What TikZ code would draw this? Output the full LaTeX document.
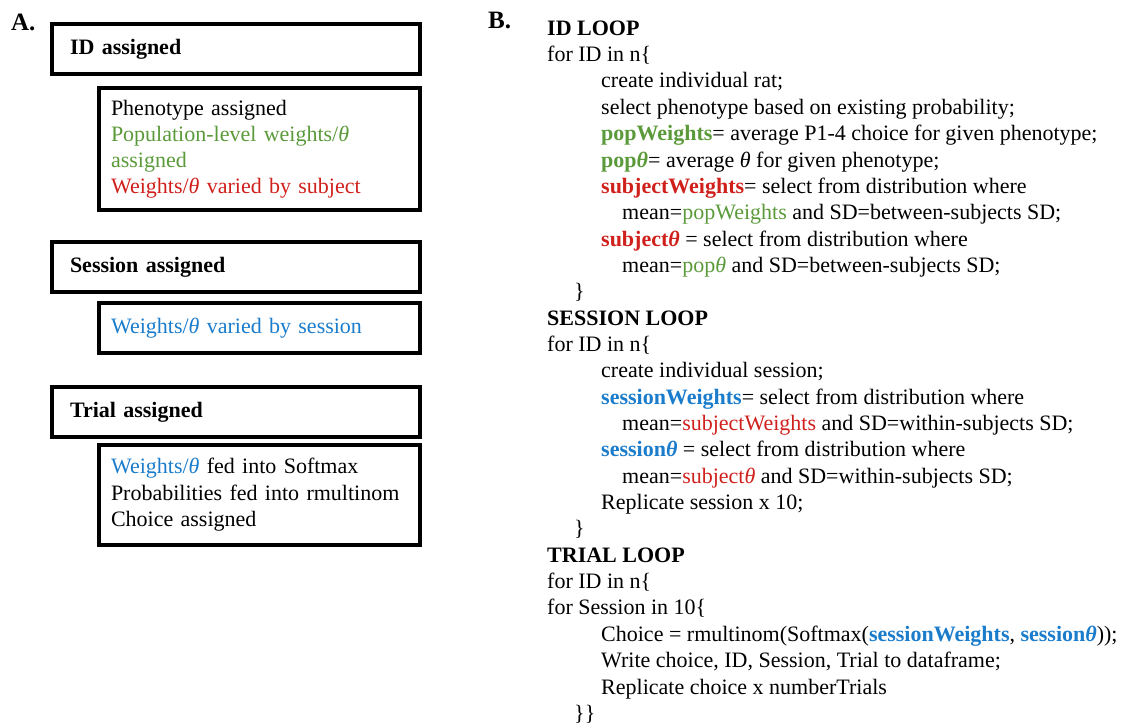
\documentclass[tikz,border=0pt]{standalone}
\usepackage{fontspec}
\setmainfont{Liberation Serif}
\definecolor{popgreen}{HTML}{5B9A3A}
\definecolor{subjred}{HTML}{D0201B}
\definecolor{sessblue}{HTML}{1A7CCB}
\newcommand{\tht}{\textit{θ}}
\newcommand{\gr}[1]{\textcolor{popgreen}{#1}}
\newcommand{\rd}[1]{\textcolor{subjred}{#1}}
\newcommand{\bl}[1]{\textcolor{sessblue}{#1}}
\begin{document}
\begin{tikzpicture}[x=1pt,y=-1pt,
  font=\fontsize{22}{26}\selectfont,
  codeline/.style={anchor=mid west, inner sep=0pt},
  panel/.style={anchor=base west, inner sep=0pt, font=\fontsize{25}{30}\selectfont\bfseries},
  stagebox/.style={draw, line width=3.5pt, outer sep=0pt, anchor=north west, align=left,
    minimum width=368pt, text width=332pt, inner xsep=18pt, inner ysep=0pt,
    minimum height=50pt},
  detailbox/.style={draw, line width=3.5pt, outer sep=0pt, anchor=north west, align=left,
    minimum width=321pt, text width=297pt, inner xsep=12pt, inner ysep=0pt}]
\useasboundingbox (0,0) rectangle (1122,727);

% panel letters
\node[panel] (labA) at (11,31) {A.};
\node[panel] (labB) at (488,29) {B.};

% A: stages of the simulation
\node[stagebox] (idbox) at (52,24) {\textbf{ID assigned}};
\node[detailbox, minimum height=122pt] (iddet) at (99,88)
  {Phenotype assigned\\
   \gr{Population-level weights/\tht}\\
   \gr{assigned}\\
   \rd{Weights/\tht{} varied by subject}};
\node[stagebox] (sessbox) at (52,242) {\textbf{Session assigned}};
\node[detailbox, minimum height=50pt] (sessdet) at (99,303)
  {\bl{Weights/\tht{} varied by session}};
\node[stagebox] (trialbox) at (52,387) {\textbf{Trial assigned}};
\node[detailbox, minimum height=100pt, font=\fontsize{22}{26.5}\selectfont] (trialdet) at (99,445)
  {\bl{Weights/\tht} fed into Softmax\\
   Probabilities fed into rmultinom\\
   Choice assigned};

% B: pseudocode
\node[codeline] (c00) at (547,33.0)  {\textbf{ID LOOP}};
\node[codeline] (c01) at (547,59.4)  {for ID in n\{};
\node[codeline] (c02) at (601,85.7)  {create individual rat;};
\node[codeline] (c03) at (601,112.1) {select phenotype based on existing probability;};
\node[codeline] (c04) at (601,138.4) {\gr{\textbf{popWeights}}= average P1-4 choice for given phenotype;};
\node[codeline] (c05) at (601,164.8) {\gr{\textbf{pop\tht}}= average \tht{} for given phenotype;};
\node[codeline] (c06) at (601,191.1) {\rd{\textbf{subjectWeights}}= select from distribution where};
\node[codeline] (c07) at (622,217.5) {mean=\gr{popWeights} and SD=between-subjects SD;};
\node[codeline] (c08) at (601,243.8) {\rd{\textbf{subject\tht}} = select from distribution where};
\node[codeline] (c09) at (622,270.2) {mean=\gr{pop\tht} and SD=between-subjects SD;};
\node[codeline] (c10) at (574,296.5) {\}};
\node[codeline] (c11) at (547,322.9) {\textbf{SESSION LOOP}};
\node[codeline] (c12) at (547,349.2) {for ID in n\{};
\node[codeline] (c13) at (601,375.6) {create individual session;};
\node[codeline] (c14) at (601,401.9) {\bl{\textbf{sessionWeights}}= select from distribution where};
\node[codeline] (c15) at (622,428.3) {mean=\rd{subjectWeights} and SD=within-subjects SD;};
\node[codeline] (c16) at (601,454.6) {\bl{\textbf{session\tht}} = select from distribution where};
\node[codeline] (c17) at (622,481.0) {mean=\rd{subject\tht} and SD=within-subjects SD;};
\node[codeline] (c18) at (601,507.3) {Replicate session x 10;};
\node[codeline] (c19) at (574,533.7) {\}};
\node[codeline] (c20) at (547,560.0) {\textbf{TRIAL LOOP}};
\node[codeline] (c21) at (547,586.4) {for ID in n\{};
\node[codeline] (c22) at (547,612.7) {for Session in 10\{};
\node[codeline] (c23) at (601,639.1) {Choice = rmultinom(Softmax(\bl{\textbf{sessionWeights}}, \bl{\textbf{session\tht}}));};
\node[codeline] (c24) at (601,665.4) {Write choice, ID, Session, Trial to dataframe;};
\node[codeline] (c25) at (601,691.8) {Replicate choice x numberTrials};
\node[codeline] (c26) at (574,718.1) {\}\}};
\end{tikzpicture}
\end{document}
